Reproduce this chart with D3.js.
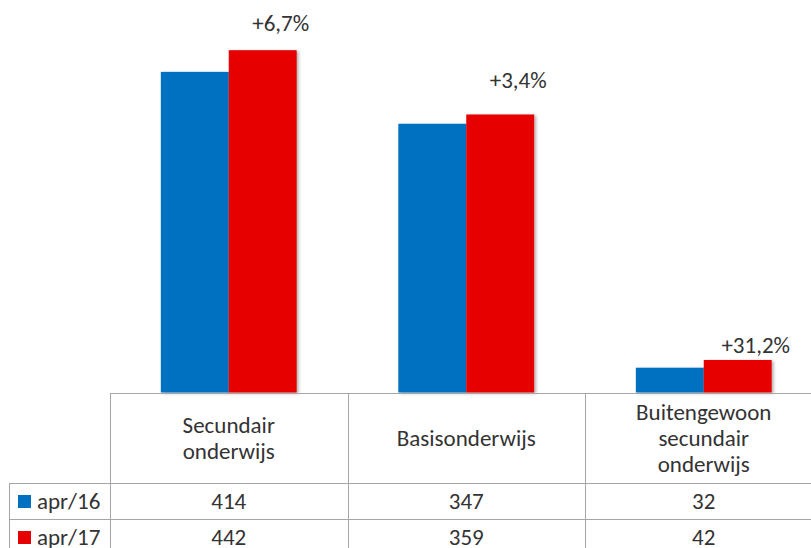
<!DOCTYPE html>
<html>
<head>
<meta charset="utf-8">
<script src="https://cdn.jsdelivr.net/npm/d3@7"></script>
<style>
  body { margin: 0; background: #fff; }
  svg { display: block; font-family: Carlito, Lato, "Open Sans", sans-serif; }
</style>
</head>
<body>
<div id="chart"></div>
<script>
// data
var categories = [["Secundair", "onderwijs"], ["Basisonderwijs"], ["Buitengewoon", "secundair", "onderwijs"]];
var seriesNames = ["apr/16", "apr/17"];
var apr16 = [414, 347, 32];
var apr17 = [442, 359, 42];
var changeLabels = ["+6,7%", "+3,4%", "+31,2%"];
var colors = ["#0070C0", "#E60000"];

var W = 811, H = 548;
var baseY = 392.5, tableLeft = 110, legendLeft = 9;
var headerBottom = 483, rowH = 36;
var fs = 23;

var svg = d3.select("#chart").append("svg").attr("width", W).attr("height", H);

var defs = svg.append("defs");
var f = defs.append("filter").attr("id", "shadow").attr("x", "-10%").attr("y", "-10%").attr("width", "130%").attr("height", "130%");
f.append("feDropShadow").attr("dx", 2).attr("dy", 1).attr("stdDeviation", 1.5).attr("flood-color", "#000").attr("flood-opacity", 0.3);

var keys = d3.range(categories.length);
var x0 = d3.scaleBand().domain(keys).range([tableLeft, tableLeft + 3 * 237.5]).paddingInner(0).paddingOuter(0);
var bw = x0.bandwidth();
var x1 = d3.scaleBand().domain([0, 1]).range([bw * 0.214, bw * 0.786]).padding(0);
var y = d3.scaleLinear().domain([0, 450]).range([baseY, 44]);

var series = [apr16, apr17];

// bars
var groups = svg.selectAll("g.grp").data(keys).enter().append("g")
  .attr("class", "grp")
  .attr("transform", function(d){ return "translate(" + x0(d) + ",0)"; });

groups.selectAll("rect").data(function(d){ return [0, 1].map(function(s){ return {s: s, v: series[s][d]}; }); })
  .enter().append("rect")
  .attr("x", function(d){ return x1(d.s); })
  .attr("y", function(d){ return y(d.v); })
  .attr("width", x1.bandwidth())
  .attr("height", function(d){ return baseY - y(d.v); })
  .attr("fill", function(d){ return colors[d.s]; })
  .attr("filter", "url(#shadow)");

// change labels above red bars
var labelDy = [-19, -26, -7];
groups.append("text")
  .attr("x", function(d){ return x1(1) + x1.bandwidth() / 2 + 18; })
  .attr("y", function(d, i){ return y(apr17[d]) + labelDy[i]; })
  .attr("text-anchor", "middle")
  .attr("font-size", fs)
  .attr("fill", "#333")
  .text(function(d){ return changeLabels[d]; });

// data table
var grid = svg.append("g").attr("stroke", "#a6a6a6").attr("stroke-width", 1).attr("shape-rendering", "crispEdges");
grid.append("line").attr("x1", tableLeft).attr("x2", W).attr("y1", baseY + 0.5).attr("y2", baseY + 0.5);
[headerBottom, headerBottom + rowH].forEach(function(yy){
  grid.append("line").attr("x1", legendLeft).attr("x2", W).attr("y1", yy + 0.5).attr("y2", yy + 0.5);
});
grid.append("line").attr("x1", legendLeft + 0.5).attr("x2", legendLeft + 0.5).attr("y1", headerBottom).attr("y2", H);
keys.forEach(function(k){
  var xx = Math.round(x0(k)) + 0.5;
  grid.append("line").attr("x1", xx).attr("x2", xx).attr("y1", baseY).attr("y2", H);
});

// header labels
var lineH = 26, headerMid = (baseY + headerBottom) / 2;
keys.forEach(function(k){
  var lines = categories[k];
  var t = svg.append("text")
    .attr("text-anchor", "middle")
    .attr("font-size", fs)
    .attr("fill", "#333");
  lines.forEach(function(l, i){
    t.append("tspan")
      .attr("x", x0(k) + bw / 2)
      .attr("y", headerMid + 8 + (i - (lines.length - 1) / 2) * lineH)
      .text(l);
  });
});

// value rows with legend keys
series.forEach(function(vals, s){
  var top = headerBottom + s * rowH;
  var mid = top + rowH / 2;
  svg.append("rect")
    .attr("x", 18).attr("y", mid - 6)
    .attr("width", 13).attr("height", 13)
    .attr("fill", colors[s]);
  svg.append("text")
    .attr("x", 37).attr("y", mid + 8)
    .attr("font-size", fs).attr("fill", "#333")
    .text(seriesNames[s]);
  keys.forEach(function(k){
    svg.append("text")
      .attr("x", x0(k) + bw / 2).attr("y", mid + 8)
      .attr("text-anchor", "middle")
      .attr("font-size", fs).attr("fill", "#333")
      .text(vals[k]);
  });
});
</script>
</body>
</html>
